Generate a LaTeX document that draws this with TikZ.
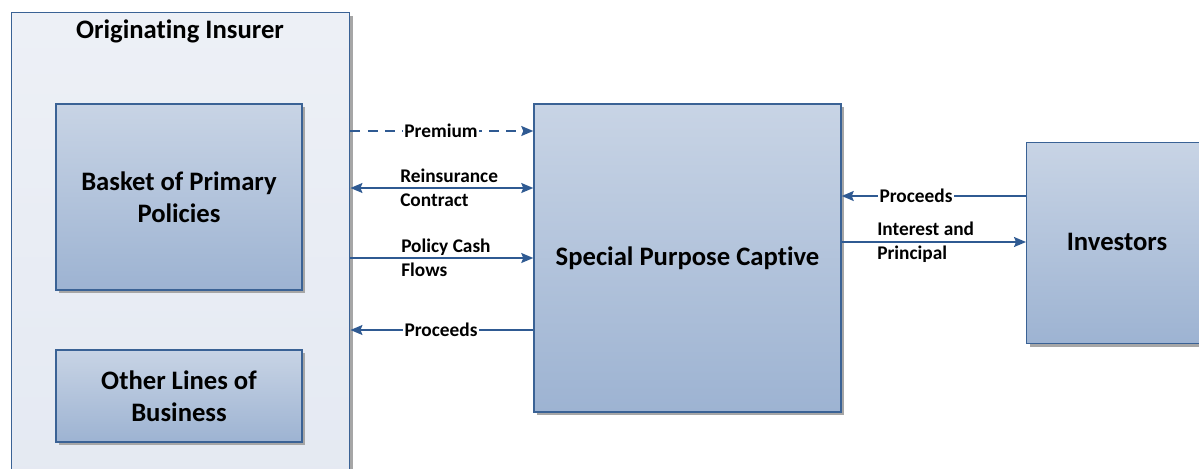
\documentclass[tikz,border=0pt]{standalone}
\usepackage{fontspec}
\setmainfont{Carlito}[Ligatures=NoCommon]
\usetikzlibrary{arrows.meta,shadows}
\definecolor{bordc}{HTML}{3A6295}
\definecolor{arrc}{HTML}{2F5A92}
\definecolor{boxtop}{HTML}{C8D4E5}
\definecolor{boxbot}{HTML}{9DB3D2}
\definecolor{outerfill}{HTML}{EDF0F6}
\definecolor{outerbot}{HTML}{E4E9F2}
\tikzset{
  shad/.style={drop shadow={shadow xshift=2.25pt,shadow yshift=-2.25pt,fill=black!35,opacity=1}},
  gbox/.style={rectangle,draw=bordc,line width=1.1pt,top color=boxtop,bottom color=boxbot,
    shad,font=\bfseries\fontsize{20}{24}\selectfont,align=center,inner sep=0pt},
  outerbox/.style={rectangle,draw=bordc,line width=1.1pt,top color=outerfill,bottom color=outerbot,shad},
  conn/.style={draw=arrc,line width=1.1pt},
  tip/.style={-{Stealth[length=9pt,width=7.5pt,inset=1.5pt]}},
  lbl/.style={font=\bfseries\fontsize{14.5}{18}\selectfont,inner sep=1pt},
  onlbl/.style={lbl,fill=white},
  twolbl/.style={lbl,align=left,anchor=west,inner sep=0pt},
  titletext/.style={font=\bfseries\fontsize{20}{24}\selectfont}
}
\begin{document}
\begin{tikzpicture}[x=0.75pt,y=-0.75pt]
\clip (0,0) rectangle (1199,468);
\fill[white] (0,0) rectangle (1199,468);
% outer insurer box
\node[outerbox,minimum width=253.5pt,minimum height=366pt,anchor=north west] (ins) at (11,12) {};
\node[titletext] (title) at (180,31) {Originating Insurer};
\node[gbox,minimum width=184.5pt,minimum height=139.5pt] (basket) at (179,197) {Basket of Primary\\Policies};
\node[gbox,minimum width=184.5pt,minimum height=69pt] (other) at (179,396) {Other Lines of\\Business};
\node[gbox,minimum width=230.25pt,minimum height=231pt] (spc) at (687.5,258) {Special Purpose Captive};
\node[gbox,minimum width=137pt,minimum height=150.75pt,anchor=north west] (inv) at (1026,142) {};
\node[font=\bfseries\fontsize{20}{24}\selectfont] (invtext) at (1117,242) {Investors};
% left connectors
\coordinate (a1) at (ins.east |- 0,131);
\coordinate (b1) at (spc.west |- 0,131);
\draw[conn,tip,dash pattern=on 7.5pt off 5.5pt] (a1) -- (b1);
\node[onlbl] (premium) at (441,131) {Premium};
\coordinate (a2) at (ins.east |- 0,188);
\coordinate (b2) at (spc.west |- 0,188);
\draw[conn,{Stealth[length=9pt,width=7.5pt,inset=1.5pt]}-{Stealth[length=9pt,width=7.5pt,inset=1.5pt]}] (a2) -- (b2);
\node[twolbl] (reins) at (400,188) {Reinsurance\\Contract};
\coordinate (a3) at (ins.east |- 0,258);
\coordinate (b3) at (spc.west |- 0,258);
\draw[conn,tip] (a3) -- (b3);
\node[twolbl] (pcf) at (401,258) {Policy Cash\\Flows};
\coordinate (a4) at (ins.east |- 0,330);
\coordinate (b4) at (spc.west |- 0,330);
\draw[conn,tip] (b4) -- (a4);
\node[onlbl] (proc1) at (441,330) {Proceeds};
% right connectors
\coordinate (c1) at (spc.east |- 0,196);
\coordinate (d1) at (inv.west |- 0,196);
\draw[conn,tip] (d1) -- (c1);
\node[onlbl] (proc2) at (916,196) {Proceeds};
\coordinate (c2) at (spc.east |- 0,242);
\coordinate (d2) at (inv.west |- 0,242);
\draw[conn,tip] (c2) -- (d2);
\node[twolbl] (intp) at (877,242) {Interest and\\Principal};
\end{tikzpicture}
\end{document}
